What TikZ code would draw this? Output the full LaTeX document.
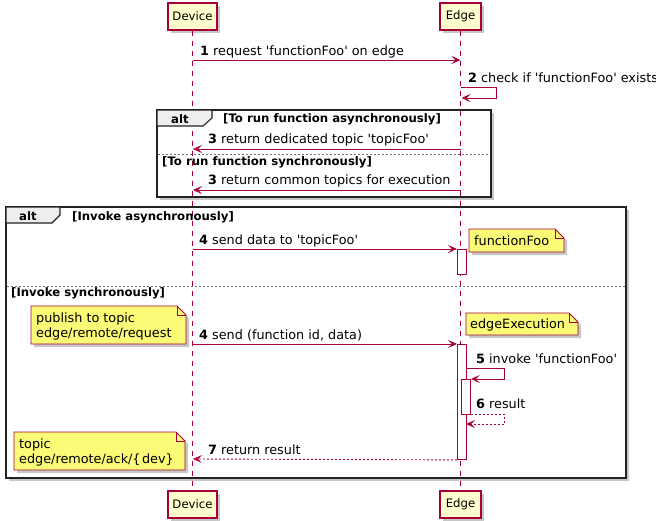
\documentclass[tikz,border=0pt]{standalone}
\usepackage{fontspec}
\newfontfamily\dvs{DejaVu Sans}
\usetikzlibrary{arrows.meta,shadows}
\definecolor{pumlred}{HTML}{A80036}
\definecolor{pumlpart}{HTML}{FEFECE}
\definecolor{pumlnote}{HTML}{FBFB77}
\definecolor{pumltab}{HTML}{EEEEEE}
\definecolor{framecol}{HTML}{222222}
\newcommand\pumlnotebox[4]{%
  \draw[notestyle] (#1,#2) -- (#3-9,#2) -- (#3,#2+9) -- (#3,#4) -- (#1,#4) -- cycle;
  \draw[notefold] (#3-9,#2) -- (#3-9,#2+9) -- (#3,#2+9);
}
\begin{document}
\begin{tikzpicture}[x=1pt,y=-1pt,
  pshadow/.style={drop shadow={shadow xshift=3pt, shadow yshift=-3pt, fill=black, opacity=0.22}},
  partbox/.style={draw=pumlred, fill=pumlpart, line width=1.2pt, minimum width=49pt,
    minimum height=27pt, inner sep=0pt, font=\dvs\fontsize{11.7}{14}\selectfont, pshadow},
  lifeline/.style={draw=pumlred, line width=0.8pt, dash pattern=on 5pt off 5pt},
  frameback/.style={fill=white, pshadow},
  frameline/.style={draw=framecol, line width=1.6pt},
  tabshape/.style={draw=framecol, line width=1.1pt, fill=pumltab},
  sepline/.style={draw=black!55, line width=0.8pt, dash pattern=on 2pt off 2pt},
  actbox/.style={draw=pumlred, fill=white, line width=0.9pt, inner sep=0pt, anchor=north west},
  msg/.style={draw=pumlred, line width=0.9pt, -{Stealth[length=9pt,width=8pt,inset=4pt,fill=pumlred]}},
  retmsg/.style={msg, dash pattern=on 2pt off 2pt},
  msgtext/.style={font=\dvs\fontsize{12.8}{15}\selectfont, inner sep=0pt, anchor=base west},
  grptext/.style={font=\dvs\bfseries\fontsize{11.7}{14}\selectfont, inner sep=0pt, anchor=base west},
  notestyle/.style={draw=pumlred, fill=pumlnote, line width=0.9pt, pshadow},
  notefold/.style={draw=pumlred, line width=0.9pt},
  notetext/.style={font=\dvs\fontsize{12.8}{15}\selectfont, inner sep=0pt, anchor=base west}
]
\useasboundingbox (0,0) rectangle (656,520);
\clip (0,0) rectangle (656,520);

% frame backgrounds with shadows
\path[frameback] (157,110) rectangle (491,197);
\path[frameback] (6,207) rectangle (626,478);

% participants
\node[partbox] (devtop) at (192.5,16.5) {Device};
\node[partbox, minimum width=41pt] (edgtop) at (460.5,16.5) {Edge};
\node[partbox] (devbot) at (192.5,504.5) {Device};
\node[partbox, minimum width=41pt] (edgbot) at (460.5,504.5) {Edge};

% lifelines
\draw[lifeline] (devtop.south) -- (devbot.north);
\draw[lifeline] (edgtop.south) -- (edgbot.north);

% frames
\draw[frameline] (157,110) rectangle (491,197);
\draw[tabshape] (157,110) -- (212,110) -- (212,118) -- (203,126) -- (157,126) -- cycle;
\node[grptext] (alta) at (171,123) {alt};
\node[grptext] (grpa) at (223,122.5) {[To run function asynchronously]};
\draw[sepline] (158,154) -- (490,154);
\node[grptext] (grpb) at (162,165) {[To run function synchronously]};

\draw[frameline] (6,207) rectangle (626,478);
\draw[tabshape] (6,207) -- (60,207) -- (60,215) -- (52,223) -- (6,223) -- cycle;
\node[grptext] (altb) at (19,220.5) {alt};
\node[grptext] (grpc) at (72,220.5) {[Invoke asynchronously]};
\draw[sepline] (7,286) -- (625,286);
\node[grptext] (grpd) at (11,296) {[Invoke synchronously]};

% activations
\node[actbox, minimum width=9pt, minimum height=25pt] (act1) at (457,249) {};
\node[actbox, minimum width=9pt, minimum height=115pt] (act2) at (457,344) {};
\node[actbox, minimum width=9pt, minimum height=35pt] (act3) at (461,379) {};

% message endpoints
\coordinate (m1s) at (192.5,60);
\coordinate (m1e) at (460.5,60);
\coordinate (m2s) at (461,87);
\coordinate (m2e) at (461.5,98);
\coordinate (m3as) at (461,149);
\coordinate (m3ae) at (193,149);
\coordinate (m3bs) at (461,190);
\coordinate (m3be) at (193,190);
\coordinate (m4as) at (192.5,249);
\coordinate (m4bs) at (192.5,344);
\coordinate (m5s) at (466,368);
\coordinate (m6e) at (466,424);
\coordinate (m7e) at (193,459);

% messages
\draw[msg] (m1s) -- (m1e);
\draw[msg] (m2s) -- ++(35,0) |- (m2e);
\draw[msg] (m3as) -- (m3ae);
\draw[msg] (m3bs) -- (m3be);
\draw[msg] (m4as) -- (act1.north west);
\draw[msg] (m4bs) -- (act2.north west);
\draw[msg] (m5s) -- ++(38,0) |- (act3.north east);
\draw[retmsg] (act3.south east) -- ++(34,0) |- (m6e);
\draw[retmsg] (act2.south west) -- (m7e);

% message labels
\node[msgtext] (t1) at (200,55) {\textbf{1} request 'functionFoo' on edge};
\node[msgtext] (t2) at (468,82) {\textbf{2} check if 'functionFoo' exists};
\node[msgtext] (t3a) at (208,143.5) {\textbf{3} return dedicated topic 'topicFoo'};
\node[msgtext] (t3b) at (208,184.5) {\textbf{3} return common topics for execution};
\node[msgtext] (t4a) at (199,244) {\textbf{4} send data to 'topicFoo'};
\node[msgtext] (t4b) at (199,339) {\textbf{4} send (function id, data)};
\node[msgtext] (t5) at (476,363) {\textbf{5} invoke 'functionFoo'};
\node[msgtext] (t6) at (476,408) {\textbf{6} result};
\node[msgtext] (t7) at (208,454) {\textbf{7} return result};

% notes
\pumlnotebox{469}{229}{564}{252}
\node[notetext] (n1) at (474,245) {functionFoo};
\pumlnotebox{466}{313}{578}{335}
\node[notetext] (n2) at (470,328) {edgeExecution};
\pumlnotebox{31}{306}{186}{344}
\node[notetext] (n3a) at (36,322) {publish to topic};
\node[notetext] (n3b) at (36,337) {edge/remote/request};
\pumlnotebox{14}{432}{185}{470}
\node[notetext] (n4a) at (19,448) {topic};
\node[notetext] (n4b) at (19,463) {edge/remote/ack/\{\kern1.5pt dev\}};
\end{tikzpicture}
\end{document}
